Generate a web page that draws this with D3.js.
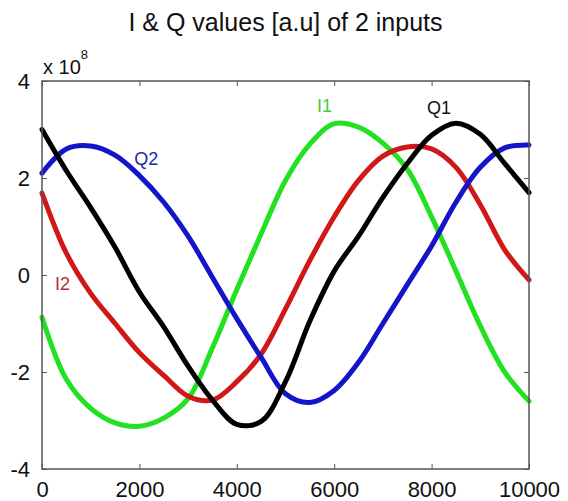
<!DOCTYPE html>
<html>
<head>
<meta charset="utf-8">
<script src="https://cdn.jsdelivr.net/npm/d3@7"></script>
<style>
  body { margin: 0; background: #fff; }
  svg text { font-family: "Liberation Sans", Arial, sans-serif; }
</style>
</head>
<body>
<div id="chart"></div>
<script>
// sample positions (x axis) and values in units of 1e8
var xs = [0, 500, 1000, 1500, 2000, 2500, 3000, 3500, 4000, 4500, 5000,
          5500, 6000, 6500, 7000, 7500, 8000, 8500, 9000, 9500, 10000];

var I1 = [-0.87, -2.15, -2.75, -3.05, -3.12, -2.95, -2.55, -1.5, -0.3, 0.85, 1.95,
          2.7, 3.12, 3.05, 2.72, 2.18, 1.2, 0.08, -1.05, -2.0, -2.6];
var Q1 = [3.0, 2.15, 1.39, 0.57, -0.35, -1.07, -1.88, -2.58, -3.08, -3.02, -2.2,
          -0.95, 0.08, 0.8, 1.6, 2.3, 2.88, 3.13, 2.9, 2.3, 1.7];
var I2 = [1.69, 0.45, -0.38, -1.0, -1.6, -2.07, -2.5, -2.58, -2.2, -1.63, -0.7,
          0.3, 1.2, 1.95, 2.45, 2.64, 2.6, 2.22, 1.45, 0.52, -0.1];
var Q2 = [2.1, 2.6, 2.66, 2.47, 2.05, 1.5, 0.8, -0.05, -0.9, -1.7, -2.45,
          -2.63, -2.38, -1.8, -1.0, -0.2, 0.6, 1.5, 2.22, 2.62, 2.68];

var xTicks = [0, 2000, 4000, 6000, 8000, 10000];
var yTicks = [-4, -2, 0, 2, 4];

var W = 568, H = 501;
var margin = {left: 42, top: 81, right: 39, bottom: 32};
var w = W - margin.left - margin.right,
    h = H - margin.top - margin.bottom;

var svg = d3.select("#chart").append("svg")
    .attr("width", W).attr("height", H);

var g = svg.append("g")
    .attr("transform", "translate(" + margin.left + "," + margin.top + ")");

var x = d3.scaleLinear().domain([0, 10000]).range([0, w]);
var y = d3.scaleLinear().domain([-4, 4]).range([h, 0]);

// title
svg.append("text")
    .attr("x", margin.left + w / 2).attr("y", 31)
    .attr("text-anchor", "middle")
    .style("font-size", "25px").style("fill", "#111")
    .text("I & Q values [a.u] of 2 inputs");

// curves
var line = d3.line()
    .x(function(d) { return x(d[0]); })
    .y(function(d) { return y(d[1]); })
    .curve(d3.curveCatmullRom);

var series = [
  {name: "I1", vals: I1, color: "#22e022"},
  {name: "I2", vals: I2, color: "#d01818"},
  {name: "Q2", vals: Q2, color: "#1414c8"},
  {name: "Q1", vals: Q1, color: "#000000"}
];

series.forEach(function(s) {
  g.append("path")
    .datum(xs.map(function(v, i) { return [v, s.vals[i]]; }))
    .attr("fill", "none")
    .attr("stroke", s.color)
    .attr("stroke-width", 5)
    .attr("stroke-linejoin", "round")
    .attr("stroke-linecap", "round")
    .attr("d", line);
});

// axes, matlab style box with inward ticks
var axisColor = "#555";
function styleAxis(sel) {
  sel.select(".domain").remove();
  sel.selectAll(".tick line").attr("stroke", axisColor);
  sel.selectAll(".tick text").style("font-size", "22px").attr("fill", "#111");
}
// plain hyphen for negatives, like the original
function plain(d) { return String(d); }

g.append("g").attr("transform", "translate(0," + h + ")")
  .call(d3.axisBottom(x).tickValues(xTicks).tickSizeInner(-5).tickSizeOuter(0).tickPadding(12).tickFormat(plain))
  .call(styleAxis);
g.append("g")
  .call(d3.axisTop(x).tickValues(xTicks).tickSizeInner(-5).tickSizeOuter(0).tickFormat(""))
  .call(styleAxis);
g.append("g")
  .call(d3.axisLeft(y).tickValues(yTicks).tickSizeInner(-5).tickSizeOuter(0).tickPadding(12).tickFormat(plain))
  .call(styleAxis);
g.append("g").attr("transform", "translate(" + w + ",0)")
  .call(d3.axisRight(y).tickValues(yTicks).tickSizeInner(-5).tickSizeOuter(0).tickFormat(""))
  .call(styleAxis);

g.append("rect")
  .attr("width", w).attr("height", h)
  .attr("fill", "none").attr("stroke", axisColor).attr("stroke-width", 1.5);

// exponent
var ex = svg.append("text").attr("x", margin.left + 1).attr("y", 74)
    .style("font-size", "20px").attr("fill", "#111");
ex.append("tspan").text("x 10");
ex.append("tspan").attr("dy", -15).style("font-size", "13px").text("8");

// curve labels
var labels = [
  {text: "I1", xv: 5800, yv: 3.5, color: "#3ccc3c"},
  {text: "Q1", xv: 8150, yv: 3.45, color: "#111"},
  {text: "Q2", xv: 2140, yv: 2.4, color: "#2626a8"},
  {text: "I2", xv: 420, yv: -0.18, color: "#c02838"}
];
g.selectAll(".lbl").data(labels).enter().append("text")
  .attr("class", "lbl")
  .attr("x", function(d) { return x(d.xv); })
  .attr("y", function(d) { return y(d.yv); })
  .attr("text-anchor", "middle")
  .attr("dy", "0.35em")
  .style("font-size", "18px")
  .attr("fill", function(d) { return d.color; })
  .text(function(d) { return d.text; });
</script>
</body>
</html>
